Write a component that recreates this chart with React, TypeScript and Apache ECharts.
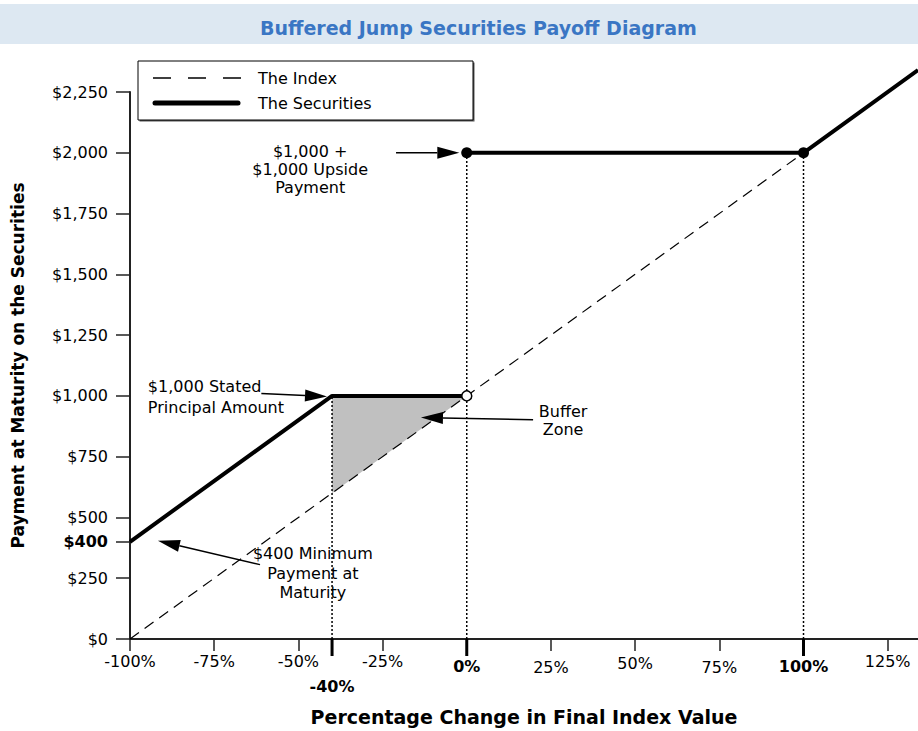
import React, { useEffect, useRef } from "react";
import * as echarts from "echarts";

// ---- data ----
const xTicks = [-100, -75, -50, -40, -25, 0, 25, 50, 75, 100, 125];
const yTicks = [0, 250, 400, 500, 750, 1000, 1250, 1500, 1750, 2000, 2250];
const boldXTicks = [-40, 0, 100];
const indexLine = [
  [-100, 0],
  [134, 2340],
];
const securitiesLow = [
  [-100, 400],
  [-40, 1000],
  [0, 1000],
];
const securitiesHigh = [
  [0, 2000],
  [100, 2000],
  [134, 2340],
];
const jumpPoints = [
  [0, 2000],
  [100, 2000],
];
const openPoint = [[0, 1000]];
const dropLines = [
  [-40, 1000],
  [0, 2000],
  [100, 2000],
];
const bufferZone = [
  [-40, 1000],
  [0, 1000],
  [-40, 600],
];
const annotationTexts = [
  ["$1,000 +", "$1,000 Upside", "Payment"],
  ["$1,000 Stated", "Principal Amount"],
  ["Buffer", "Zone"],
  ["$400 Minimum", "Payment at", "Maturity"],
];
// anchors in data space (text anchor, arrow tail, arrow tip)
const annotationAnchors = [
  { at: [-46.5, 1931], from: [-21, 2000], to: [-2.2, 2000] },
  { at: [-94.7, 994], from: [-61, 1010], to: [-41.5, 997] },
  { at: [28.6, 898], from: [19.7, 902], to: [-13.6, 911] },
  { at: [-45.7, 270], from: [-61.4, 306], to: [-91.7, 404] },
];
const annotationStyle = [
  { align: "center", lineHeight: 18 },
  { align: "left", lineHeight: 21 },
  { align: "center", lineHeight: 18 },
  { align: "center", lineHeight: 19.5 },
];

const FONT = "DejaVu Sans";

function fmtMoney(v: number) {
  return "$" + String(v).replace(/\B(?=(\d{3})+(?!\d))/g, ",");
}

export default function App() {
  const ref = useRef<HTMLDivElement>(null);
  useEffect(() => {
    const chart = echarts.init(ref.current!, null, { renderer: "svg" });
    const option: any = {
      animation: false,
      backgroundColor: "#fff",
      title: {
        text: "Buffered Jump Securities Payoff Diagram",
        left: 255,
        top: 13,
        textStyle: { fontFamily: FONT, fontWeight: "bold", fontSize: 19, color: "#3a76c4" },
        z: 10,
      },
      grid: { left: 130, right: 0, top: 92, bottom: 88 },
      xAxis: {
        type: "value",
        min: -100,
        max: 134,
        splitLine: { show: false },
        axisLine: { onZero: false, lineStyle: { color: "#222", width: 2 } },
        axisTick: { customValues: xTicks, length: 12, lineStyle: { color: "#222", width: 1.5 } },
        axisLabel: {
          customValues: xTicks,
          margin: 14,
          formatter: (v: number) => {
            const s = `${v}%`;
            if (v === -40) return `{d|${s}}`;
            if (v === 0 || v === 100) return `{b|${s}}`;
            if (v === 25 || v === 75) return `{l|${s}}`;
            if (v === 50) return `{m|${s}}`;
            return `{n|${s}}`;
          },
          rich: {
            n: { fontFamily: FONT, fontSize: 16, color: "#000" },
            l: { fontFamily: FONT, fontSize: 16, color: "#000", padding: [6, 0, 0, 0] },
            m: { fontFamily: FONT, fontSize: 16, color: "#000", padding: [2, 0, 0, 0] },
            b: { fontFamily: FONT, fontSize: 16, color: "#000", fontWeight: "bold", padding: [5, 0, 0, 0] },
            d: { fontFamily: FONT, fontSize: 16, color: "#000", fontWeight: "bold", padding: [25, 0, 0, 0] },
          },
        },
        name: "Percentage Change in Final Index Value",
        nameLocation: "middle",
        nameGap: 68,
        nameTextStyle: { fontFamily: FONT, fontWeight: "bold", fontSize: 19, color: "#000" },
      },
      yAxis: {
        type: "value",
        min: 0,
        max: 2250,
        splitLine: { show: false },
        axisLine: { show: true, onZero: false, lineStyle: { color: "#222", width: 2 } },
        axisTick: { show: true, customValues: yTicks, length: 14, lineStyle: { color: "#222", width: 1.5 } },
        axisLabel: {
          customValues: yTicks,
          margin: 22,
          formatter: (v: number) => (v === 400 ? `{b|${fmtMoney(v)}}` : `{n|${fmtMoney(v)}}`),
          rich: {
            n: { fontFamily: FONT, fontSize: 16, color: "#000" },
            b: { fontFamily: FONT, fontSize: 16, color: "#000", fontWeight: "bold" },
          },
        },
        name: "Payment at Maturity on the Securities",
        nameLocation: "middle",
        nameGap: 104,
        nameRotate: 90,
        nameTextStyle: { fontFamily: FONT, fontWeight: "bold", fontSize: 17, color: "#000" },
      },
      series: [
        {
          type: "custom",
          z: 1,
          silent: true,
          data: [bufferZone[0]],
          renderItem: (_p: any, api: any) => ({
            type: "polygon",
            shape: { points: bufferZone.map((p) => api.coord(p)) },
            style: { fill: "#c0c0c0" },
          }),
        },
        ...dropLines.map((p) => ({
          type: "line",
          z: 2,
          symbol: "none",
          silent: true,
          data: [
            [p[0], 0],
            [p[0], p[1]],
          ],
          lineStyle: { color: "#000", width: 1.5, type: [2, 2] },
        })),
        {
          type: "line",
          z: 3,
          symbol: "none",
          clip: false,
          data: indexLine,
          lineStyle: { color: "#000", width: 1.2, type: [11, 7] },
        },
        {
          type: "line",
          z: 4,
          symbol: "none",
          data: securitiesLow,
          lineStyle: { color: "#000", width: 4 },
        },
        {
          type: "line",
          z: 4,
          symbol: "none",
          clip: false,
          data: securitiesHigh,
          lineStyle: { color: "#000", width: 4 },
        },
        {
          type: "scatter",
          z: 5,
          symbolSize: 11,
          data: jumpPoints,
          itemStyle: { color: "#000", opacity: 1 },
        },
        {
          type: "scatter",
          z: 5,
          symbolSize: 10,
          data: openPoint,
          itemStyle: { color: "#fff", borderColor: "#000", borderWidth: 1.5, opacity: 1 },
        },
      ],
    };
    chart.setOption(option);

    const px = (p: number[]) => chart.convertToPixel({ gridIndex: 0 }, p) as number[];
    const graphics: any[] = [];
    // title band
    graphics.push({
      type: "rect",
      z: -10,
      shape: { x: 0, y: 4, width: 918, height: 40 },
      style: { fill: "#dde8f2" },
    });
    // legend
    graphics.push({ type: "rect", z: 20, shape: { x: 139.5, y: 62.5, width: 335, height: 59 }, style: { fill: "#555" } });
    graphics.push({
      type: "rect",
      z: 21,
      shape: { x: 138, y: 61, width: 335, height: 59 },
      style: { fill: "#fff", stroke: "#000", lineWidth: 1 },
    });
    graphics.push({
      type: "line",
      z: 22,
      shape: { x1: 153, y1: 78, x2: 241, y2: 78 },
      style: { stroke: "#000", lineWidth: 1.5, lineDash: [18, 17] },
    });
    graphics.push({
      type: "line",
      z: 22,
      shape: { x1: 155, y1: 103, x2: 238, y2: 103 },
      style: { stroke: "#000", lineWidth: 5, lineCap: "round" },
    });
    graphics.push({
      type: "text",
      z: 22,
      x: 258,
      y: 78,
      style: { text: "The Index", fontFamily: FONT, fontSize: 16, fill: "#000", verticalAlign: "middle" },
    });
    graphics.push({
      type: "text",
      z: 22,
      x: 258,
      y: 103,
      style: { text: "The Securities", fontFamily: FONT, fontSize: 16, fill: "#000", verticalAlign: "middle" },
    });
    // bold ticks
    boldXTicks.forEach((v) => {
      const [x, y] = px([v, 0]);
      graphics.push({
        type: "line",
        z: 15,
        shape: { x1: x, y1: y, x2: x, y2: y + 17 },
        style: { stroke: "#000", lineWidth: 3 },
      });
    });
    // annotations
    annotationTexts.forEach((lines, i) => {
      const a = annotationAnchors[i];
      const st = annotationStyle[i];
      const [tx, ty] = px(a.at);
      graphics.push({
        type: "text",
        z: 30,
        x: tx,
        y: ty,
        style: {
          text: lines.join("\n"),
          fontFamily: FONT,
          fontSize: 16,
          fill: "#000",
          align: st.align,
          verticalAlign: "middle",
          lineHeight: st.lineHeight,
        },
      });
      const [x0, y0] = px(a.from);
      const [x1, y1] = px(a.to);
      const dx = x1 - x0;
      const dy = y1 - y0;
      const len = Math.sqrt(dx * dx + dy * dy);
      const ux = dx / len;
      const uy = dy / len;
      const hl = 22;
      const hw = 6;
      const bx = x1 - ux * hl;
      const by = y1 - uy * hl;
      graphics.push({
        type: "line",
        z: 30,
        shape: { x1: x0, y1: y0, x2: bx, y2: by },
        style: { stroke: "#000", lineWidth: 1.5 },
      });
      graphics.push({
        type: "polygon",
        z: 30,
        shape: {
          points: [
            [x1, y1],
            [bx - uy * hw, by + ux * hw],
            [bx + uy * hw, by - ux * hw],
          ],
        },
        style: { fill: "#000" },
      });
    });
    chart.setOption({ graphic: graphics });
    return () => chart.dispose();
  }, []);
  return <div ref={ref} style={{ position: "absolute", left: 0, top: 0, width: 918, height: 731 }} />;
}
